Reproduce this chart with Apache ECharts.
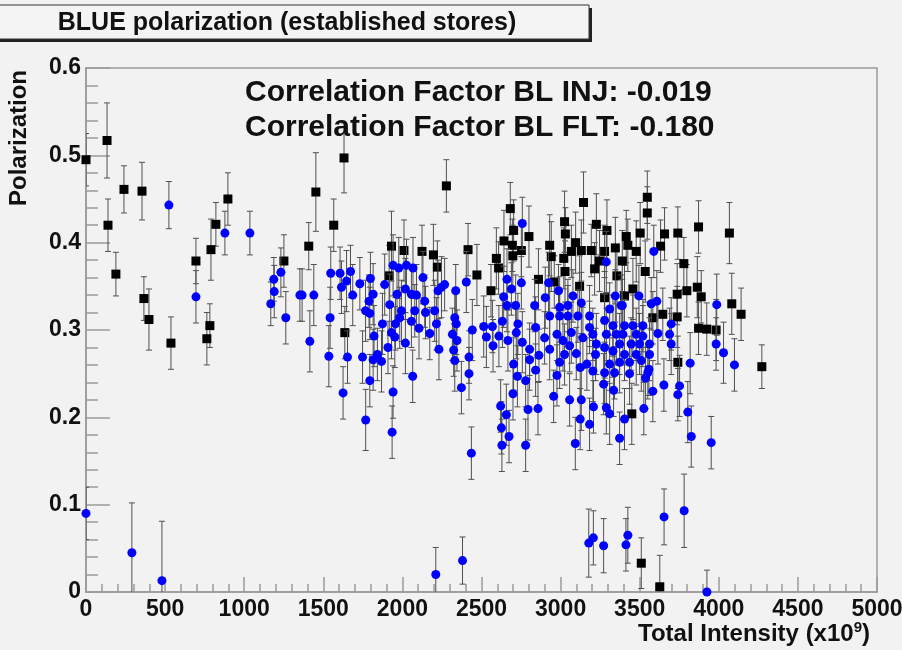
<!DOCTYPE html>
<html><head><meta charset="utf-8">
<script src="https://cdn.jsdelivr.net/npm/echarts/dist/echarts.min.js"></script>
<style>html,body{margin:0;padding:0;background:#f2f2f2;}#c{width:902px;height:650px;}</style>
</head><body><div id="c"></div>
<script>
const xTickLabels = ['0','500','1000','1500','2000','2500','3000','3500','4000','4500','5000'];
const yTickLabels = ['0','0.1','0.2','0.3','0.4','0.5','0.6'];
const titleText = 'BLUE polarization (established stores)';
const corrInj = 'Correlation Factor BL INJ: -0.019';
const corrFlt = 'Correlation Factor BL FLT: -0.180';
const xTitle = 'Total Intensity (x10';
const yTitle = 'Polarization';

// [intensity, polarization, error]
const fltPoints = [
[0,0.495,0.03],[133,0.517,0.043],[139,0.420,0.030],[189,0.364,0.025],[240,0.461,0.027],[354,0.459,0.033],
[366,0.336,0.025],[398,0.312,0.035],[537,0.285,0.030],[695,0.379,0.026],[764,0.290,0.030],[783,0.305,0.025],
[790,0.392,0.035],[821,0.421,0.025],[897,0.450,0.030],[1251,0.379,0.030],[1631,0.497,0.040],[1453,0.458,0.045],
[1566,0.420,0.030],[1408,0.396,0.027],[1636,0.297,0.030],[2278,0.465,0.030],[1931,0.396,0.040],[2010,0.391,0.035],
[2124,0.390,0.030],[2196,0.386,0.035],[2221,0.372,0.030],[1916,0.362,0.035],[2415,0.392,0.030],[2471,0.363,0.035],
[2682,0.439,0.030],[2703,0.414,0.035],[2642,0.402,0.035],[2695,0.397,0.030],[2800,0.407,0.035],[2752,0.391,0.030],
[2698,0.385,0.035],[2594,0.382,0.035],[2608,0.371,0.030],[2931,0.397,0.035],[2941,0.384,0.040],[3025,0.424,0.035],
[3030,0.410,0.030],[3145,0.446,0.035],[3095,0.400,0.035],[3068,0.390,0.030],[3131,0.391,0.035],[3194,0.391,0.030],
[3020,0.382,0.035],[3226,0.421,0.035],[3215,0.370,0.030],[3028,0.367,0.035],[2860,0.358,0.035],[2960,0.355,0.030],
[3120,0.350,0.035],[2560,0.345,0.030],[3548,0.452,0.030],[3548,0.434,0.030],[3293,0.414,0.035],[3503,0.411,0.035],
[3657,0.410,0.030],[3741,0.411,0.030],[3872,0.418,0.030],[4067,0.411,0.035],[3346,0.394,0.035],[3425,0.397,0.030],
[3478,0.390,0.035],[3632,0.396,0.030],[3390,0.379,0.035],[3278,0.390,0.030],[3779,0.376,0.030],[3535,0.367,0.035],
[3356,0.362,0.030],[3737,0.341,0.035],[3798,0.345,0.030],[3864,0.349,0.035],[3889,0.338,0.030],[4082,0.330,0.035],
[3457,0.347,0.035],[3415,0.407,0.030],[3246,0.379,0.035],[3278,0.337,0.030],[3404,0.339,0.035],[4141,0.318,0.030],
[3872,0.302,0.030],[3924,0.301,0.030],[3983,0.300,0.035],[3646,0.318,0.030],[3737,0.315,0.035],[4272,0.258,0.025],
[3741,0.263,0.030],[3450,0.204,0.035],[3583,0.314,0.030],[3510,0.033,0.029],[3627,0.006,0.036]
];

const injPoints = [
[0,0.090,0.03],[290,0.045,0.057],[480,0.013,0.068],
[524,0.443,0.027],[695,0.338,0.030],[878,0.411,0.025],[1036,0.411,0.025],
[1168,0.330,0.025],[1187,0.358,0.025],[1190,0.344,0.030],[1232,0.366,0.028],[1263,0.314,0.030],[1352,0.340,0.030],
[1366,0.340,0.030],[1440,0.340,0.035],[1415,0.287,0.035],[1547,0.365,0.030],[1606,0.365,0.030],[1672,0.367,0.030],
[1647,0.356,0.035],[1615,0.349,0.030],[1686,0.340,0.035],[1543,0.314,0.035],[1535,0.270,0.035],[1653,0.269,0.030],
[1625,0.228,0.030],[1731,0.353,0.030],[1798,0.359,0.030],[1815,0.341,0.035],[1789,0.333,0.030],[1767,0.322,0.035],
[1794,0.319,0.030],[1821,0.293,0.035],[1748,0.269,0.030],[1815,0.266,0.035],[1842,0.272,0.030],[1868,0.264,0.035],
[1794,0.242,0.030],[1768,0.197,0.035],[1941,0.229,0.030],[1935,0.183,0.030],[1888,0.352,0.035],[1941,0.374,0.035],
[1977,0.371,0.035],[2026,0.374,0.030],[2067,0.371,0.035],[2130,0.360,0.030],[1920,0.329,0.035],[1966,0.341,0.030],
[2019,0.347,0.035],[2057,0.341,0.030],[2089,0.340,0.035],[2141,0.333,0.030],[1994,0.322,0.035],[2078,0.322,0.030],
[1983,0.314,0.035],[2146,0.320,0.030],[2204,0.322,0.035],[2057,0.310,0.030],[1874,0.307,0.035],[1956,0.307,0.030],
[2105,0.302,0.035],[1931,0.297,0.030],[1952,0.292,0.035],[2173,0.296,0.030],[2019,0.285,0.035],[1909,0.280,0.030],
[2231,0.278,0.035],[2065,0.247,0.030],[2215,0.307,0.030],[2247,0.349,0.035],[2267,0.352,0.030],[2225,0.345,0.035],
[2758,0.422,0.030],[2404,0.355,0.035],[2337,0.345,0.030],[2661,0.358,0.035],[2689,0.347,0.030],[2640,0.338,0.035],
[2752,0.354,0.030],[2924,0.354,0.035],[2987,0.345,0.030],[2903,0.337,0.035],[3078,0.339,0.030],[3131,0.331,0.035],
[2661,0.328,0.030],[2716,0.328,0.035],[2836,0.328,0.030],[2994,0.326,0.035],[3046,0.328,0.030],
[2331,0.314,0.030],[2341,0.307,0.035],[2316,0.295,0.030],[2345,0.288,0.035],[2324,0.277,0.030],[2331,0.265,0.035],
[2373,0.234,0.030],[2442,0.300,0.035],[2421,0.269,0.030],[2421,0.250,0.030],[2436,0.159,0.030],[2514,0.304,0.035],
[2569,0.304,0.030],[2531,0.292,0.035],[2573,0.282,0.030],[2610,0.293,0.035],[2632,0.310,0.030],[2667,0.288,0.035],
[2703,0.261,0.030],[2730,0.307,0.035],[2720,0.297,0.030],[2758,0.286,0.035],[2804,0.278,0.030],[2727,0.247,0.035],
[2779,0.242,0.030],[2699,0.227,0.030],[2621,0.213,0.030],[2657,0.203,0.035],[2626,0.188,0.030],[2674,0.178,0.030],
[2629,0.168,0.030],[2779,0.168,0.030],[2794,0.209,0.035],[2857,0.210,0.030],[2842,0.254,0.030],[2842,0.303,0.035],
[2863,0.271,0.030],[2804,0.266,0.035],[2899,0.291,0.030],[2931,0.278,0.035],[2956,0.224,0.030],[2977,0.248,0.035],
[2994,0.263,0.030],[3025,0.272,0.035],[2977,0.295,0.030],[3015,0.288,0.035],[3057,0.282,0.030],[3068,0.297,0.035],
[3099,0.273,0.030],[3124,0.257,0.035],[3166,0.261,0.030],[3204,0.253,0.035],[3221,0.272,0.030],[3057,0.220,0.030],
[3131,0.220,0.035],[3208,0.212,0.030],[3124,0.198,0.035],[3183,0.192,0.030],[3093,0.170,0.030],[2931,0.316,0.035],
[2994,0.316,0.030],[3046,0.316,0.035],[3109,0.316,0.030],[3183,0.316,0.035],[3183,0.303,0.030],[3141,0.291,0.035],
[3204,0.295,0.030],[3226,0.284,0.035],
[3589,0.390,0.030],[3289,0.378,0.035],[3346,0.339,0.030],[3495,0.339,0.035],[3573,0.330,0.030],[3608,0.333,0.035],
[3987,0.329,0.035],[3390,0.328,0.030],
[3699,0.307,0.030],[3615,0.296,0.035],[3689,0.295,0.030],[3699,0.284,0.035],[3983,0.284,0.030],[4030,0.274,0.035],
[4099,0.260,0.030],[3819,0.262,0.035],[3653,0.237,0.030],[3752,0.236,0.035],[3741,0.226,0.030],[3804,0.206,0.035],
[3826,0.178,0.035],[3952,0.171,0.030],[3583,0.230,0.035],[3558,0.255,0.030],[3537,0.245,0.035],[3526,0.210,0.030],
[3436,0.250,0.035],[3335,0.231,0.030],[3404,0.198,0.035],[3373,0.176,0.030],[3310,0.204,0.035],[3289,0.211,0.030],
[3341,0.251,0.030],[3272,0.238,0.035],
[3278,0.311,0.030],[3331,0.305,0.035],[3289,0.295,0.030],[3352,0.295,0.035],[3404,0.305,0.030],[3457,0.305,0.035],
[3520,0.305,0.030],[3394,0.295,0.035],[3478,0.295,0.030],[3520,0.293,0.035],[3562,0.284,0.030],[3499,0.284,0.035],
[3446,0.284,0.030],[3373,0.284,0.035],[3331,0.276,0.030],[3278,0.280,0.035],[3404,0.272,0.030],[3478,0.272,0.035],
[3562,0.272,0.030],[3510,0.265,0.035],[3436,0.263,0.030],[3373,0.263,0.035],[3310,0.261,0.030],[3278,0.251,0.035],
[3551,0.251,0.030],[3310,0.324,0.030],[3383,0.328,0.035],
[2211,0.020,0.031],[2380,0.036,0.027],[3178,0.056,0.039],[3207,0.062,0.031],[3272,0.053,0.031],[3413,0.054,0.030],
[3425,0.065,0.032],[3654,0.086,0.032],[3781,0.093,0.042],[3925,0.000,0.025]
];

const FONT = '"Liberation Sans", Arial, sans-serif';
const chart = echarts.init(document.getElementById('c'), null, {renderer: 'canvas'});

function errSeries(data, z) {
  return {
    type: 'custom', z: z, silent: true, clip: true,
    data: data,
    encode: {x: 0, y: 1},
    renderItem: function (params, api) {
      const x = api.value(0), y = api.value(1), e = api.value(2);
      const hiV = Math.min(y + e, 0.6), loV = Math.max(y - e, 0);
      const top = api.coord([x, hiV]);
      const bot = api.coord([x, loV]);
      const st = {stroke: '#505050', lineWidth: 1};
      const hw = 3;
      const ch = [{type: 'line', shape: {x1: top[0], y1: top[1], x2: bot[0], y2: bot[1]}, style: st}];
      if (y + e <= 0.6) ch.push({type: 'line', shape: {x1: top[0] - hw, y1: top[1], x2: top[0] + hw, y2: top[1]}, style: st});
      if (y - e >= 0) ch.push({type: 'line', shape: {x1: bot[0] - hw, y1: bot[1], x2: bot[0] + hw, y2: bot[1]}, style: st});
      return {type: 'group', children: ch};
    }
  };
}

const labelStyle = {fontFamily: FONT, fontWeight: 'bold', fontSize: 23, color: '#111'};

chart.setOption({
  backgroundColor: '#f2f2f2',
  animation: false,
  grid: {left: 86, right: 25, top: 68, bottom: 58, show: true, borderColor: '#9a9a9a', borderWidth: 1.5,
         backgroundColor: 'transparent', containLabel: false, outerBoundsMode: 'none'},
  xAxis: {
    type: 'value', min: 0, max: 5000, interval: 500,
    axisLine: {show: true, lineStyle: {color: '#9a9a9a', width: 1.5}},
    axisTick: {show: true, inside: true, length: 15, lineStyle: {color: '#9a9a9a', width: 1.5}},
    minorTick: {show: true, splitNumber: 5, length: 8, lineStyle: {color: '#9a9a9a', width: 1.5}},
    splitLine: {show: false},
    axisLabel: Object.assign({margin: 6, showMinLabel: true, showMaxLabel: true, hideOverlap: false,
      formatter: function (v, i) { return xTickLabels[i]; }}, labelStyle)
  },
  yAxis: {
    type: 'value', min: 0, max: 0.6, interval: 0.1,
    axisLine: {show: true, lineStyle: {color: '#9a9a9a', width: 1.5}},
    axisTick: {show: true, inside: true, length: 24, lineStyle: {color: '#9a9a9a', width: 1.5}},
    minorTick: {show: true, splitNumber: 5, length: 12, lineStyle: {color: '#9a9a9a', width: 1.5}},
    splitLine: {show: false},
    axisLabel: Object.assign({margin: 5, showMinLabel: true, showMaxLabel: true, hideOverlap: false,
      formatter: function (v, i) { return yTickLabels[i]; }}, labelStyle)
  },
  series: [
    errSeries(fltPoints, 2),
    {type: 'scatter', z: 3, data: fltPoints, symbol: 'rect', symbolSize: 9,
     itemStyle: {color: '#000', opacity: 1}, silent: true},
    errSeries(injPoints, 4),
    {type: 'scatter', z: 5, data: injPoints, symbol: 'circle', symbolSize: 9,
     itemStyle: {color: '#0000ff', opacity: 1}, silent: true}
  ],
  graphic: [
    {type: 'rect', z: 10, shape: {x: 0, y: 8, width: 592, height: 34}, style: {fill: '#222'}},
    {type: 'rect', z: 11, shape: {x: -2, y: 5, width: 591, height: 34}, style: {fill: '#f4f4f4', stroke: '#333', lineWidth: 1}},
    {type: 'text', z: 12, x: 287, y: 23,
      style: {text: titleText, align: 'center', verticalAlign: 'middle', font: 'bold 25px ' + FONT, fill: '#111'}},
    {type: 'text', z: 12, x: 245, y: 93,
      style: {text: corrInj, align: 'left', verticalAlign: 'middle', font: 'bold 30px ' + FONT, fill: '#111'}},
    {type: 'text', z: 12, x: 245, y: 128,
      style: {text: corrFlt, align: 'left', verticalAlign: 'middle', font: 'bold 30px ' + FONT, fill: '#111'}},
    {type: 'text', z: 12, rotation: Math.PI / 2, x: 19, y: 70,
      style: {text: yTitle, align: 'right', verticalAlign: 'middle', font: 'bold 24px ' + FONT, fill: '#111'}},
    {type: 'text', z: 12, x: 870, y: 634,
      style: {text: '{a|' + xTitle + '}{s|9}{a|)}', align: 'right', verticalAlign: 'middle',
        rich: {a: {font: 'bold 24px ' + FONT, fill: '#111'}, s: {font: 'bold 15px ' + FONT, fill: '#111', verticalAlign: 'top', padding: [0,0,12,0]}}}}
  ]
});
</script></body></html>
